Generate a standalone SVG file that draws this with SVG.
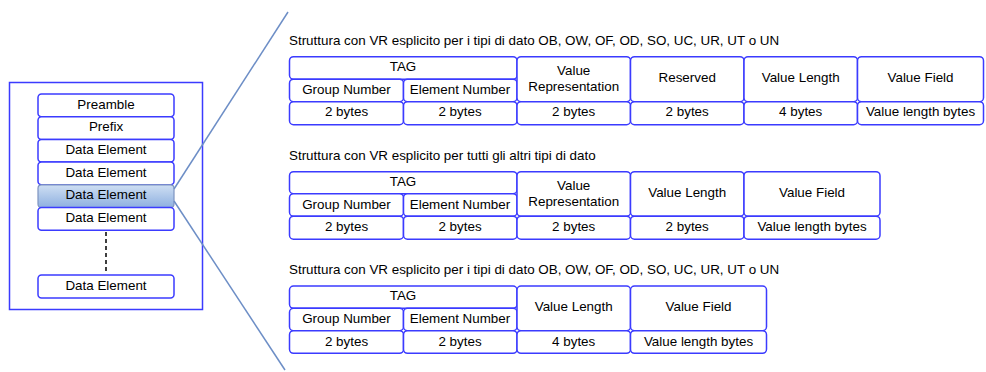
<svg xmlns="http://www.w3.org/2000/svg" width="986" height="372" viewBox="0 0 986 372">
<defs>
<linearGradient id="hl" x1="0" y1="0" x2="0" y2="1">
<stop offset="0" stop-color="#cfdff3"/>
<stop offset="1" stop-color="#8eb0e0"/>
</linearGradient>
<style>
text{font-family:"Liberation Sans",Arial,sans-serif;font-size:13.4px;fill:#000;text-anchor:middle}
.title{text-anchor:start}
.c{fill:#fff;stroke:#3b3bff;stroke-width:1.5}
.hl{fill:url(#hl);stroke:#7d93c0;stroke-width:1.2}
.outer{fill:#fff;stroke:#3b3bff;stroke-width:1.5}
.ln{stroke:#6d8ec6;stroke-width:1.5;fill:none}
.dash{stroke:#000;stroke-width:1.5;stroke-dasharray:4,3;fill:none}
</style>
</defs>
<rect width="986" height="372" fill="#fff"/>

<g id="file">
<rect class="outer" x="9.5" y="82.5" width="193" height="227"/>
</g>
<g id="preamble"><rect class="c" x="38" y="94" width="136" height="22.7" rx="3.5"/><text x="106" y="108.5">Preamble</text></g>
<g id="prefix"><rect class="c" x="38" y="116.7" width="136" height="22.7" rx="3.5"/><text x="106" y="131.2">Prefix</text></g>
<g id="de1"><rect class="c" x="38" y="139.4" width="136" height="22.7" rx="3.5"/><text x="106" y="153.9">Data Element</text></g>
<g id="de2"><rect class="c" x="38" y="162.1" width="136" height="22.7" rx="3.5"/><text x="106" y="176.6">Data Element</text></g>
<g id="de3"><rect class="hl" x="38" y="184.8" width="136" height="22.7" rx="3.5"/><text x="106" y="199.3">Data Element</text></g>
<g id="de4"><rect class="c" x="38" y="207.5" width="136" height="22.7" rx="3.5"/><text x="106" y="222">Data Element</text></g>
<g id="de5"><rect class="c" x="38" y="275" width="136" height="23" rx="3.5"/><text x="106" y="289.5">Data Element</text></g>

<g id="connectors">
<line class="ln" x1="174" y1="189" x2="288" y2="12"/>
<line class="ln" x1="174" y1="201" x2="285" y2="370"/>
<line class="dash" x1="106" y1="232" x2="106" y2="274"/>
</g>

<g id="table1">
<text class="title" x="289" y="44.5">Struttura con VR esplicito per i tipi di dato OB, OW, OF, OD, SO, UC, UR, UT o UN</text>
<rect class="c" x="289.5" y="56.7" width="227.5" height="22.5" rx="4"/><text x="403" y="71">TAG</text>
<rect class="c" x="289.5" y="79.2" width="114" height="22.5" rx="4"/><text x="346.5" y="94">Group Number</text>
<rect class="c" x="403.5" y="79.2" width="113.5" height="22.5" rx="4"/><text x="460" y="94">Element Number</text>
<rect class="c" x="517" y="56.7" width="113.5" height="45" rx="4"/><text x="573.7" y="75">Value</text><text x="573.7" y="91">Representation</text>
<rect class="c" x="630.5" y="56.7" width="113.5" height="45" rx="4"/><text x="687.2" y="82">Reserved</text>
<rect class="c" x="744" y="56.7" width="113.5" height="45" rx="4"/><text x="800.7" y="82">Value Length</text>
<rect class="c" x="857.5" y="56.7" width="126" height="45" rx="4"/><text x="920.5" y="82">Value Field</text>
<rect class="c" x="289.5" y="101.7" width="114" height="23" rx="4"/><text x="346.5" y="116">2 bytes</text>
<rect class="c" x="403.5" y="101.7" width="113.5" height="23" rx="4"/><text x="460" y="116">2 bytes</text>
<rect class="c" x="517" y="101.7" width="113.5" height="23" rx="4"/><text x="573.7" y="116">2 bytes</text>
<rect class="c" x="630.5" y="101.7" width="113.5" height="23" rx="4"/><text x="687.2" y="116">2 bytes</text>
<rect class="c" x="744" y="101.7" width="113.5" height="23" rx="4"/><text x="800.7" y="116">4 bytes</text>
<rect class="c" x="857.5" y="101.7" width="126" height="23" rx="4"/><text x="920.5" y="116">Value length bytes</text>
</g>

<g id="table2">
<text class="title" x="289" y="160">Struttura con VR esplicito per tutti gli altri tipi di dato</text>
<rect class="c" x="289.5" y="171.7" width="227.5" height="22" rx="4"/><text x="403" y="185.5">TAG</text>
<rect class="c" x="289.5" y="193.7" width="114" height="22.5" rx="4"/><text x="346.5" y="208.5">Group Number</text>
<rect class="c" x="403.5" y="193.7" width="113.5" height="22.5" rx="4"/><text x="460" y="208.5">Element Number</text>
<rect class="c" x="517" y="171.7" width="113.5" height="44.5" rx="4"/><text x="573.7" y="189.5">Value</text><text x="573.7" y="205.5">Representation</text>
<rect class="c" x="630.5" y="171.7" width="113.5" height="44.5" rx="4"/><text x="687.2" y="197">Value Length</text>
<rect class="c" x="744" y="171.7" width="136" height="44.5" rx="4"/><text x="812" y="197">Value Field</text>
<rect class="c" x="289.5" y="216.2" width="114" height="23" rx="4"/><text x="346.5" y="231">2 bytes</text>
<rect class="c" x="403.5" y="216.2" width="113.5" height="23" rx="4"/><text x="460" y="231">2 bytes</text>
<rect class="c" x="517" y="216.2" width="113.5" height="23" rx="4"/><text x="573.7" y="231">2 bytes</text>
<rect class="c" x="630.5" y="216.2" width="113.5" height="23" rx="4"/><text x="687.2" y="231">2 bytes</text>
<rect class="c" x="744" y="216.2" width="136" height="23" rx="4"/><text x="812" y="231">Value length bytes</text>
</g>

<g id="table3">
<text class="title" x="289" y="274">Struttura con VR esplicito per i tipi di dato OB, OW, OF, OD, SO, UC, UR, UT o UN</text>
<rect class="c" x="289.5" y="286" width="227.5" height="22.3" rx="4"/><text x="403" y="300">TAG</text>
<rect class="c" x="289.5" y="308.3" width="114" height="22.4" rx="4"/><text x="346.5" y="323">Group Number</text>
<rect class="c" x="403.5" y="308.3" width="113.5" height="22.4" rx="4"/><text x="460" y="323">Element Number</text>
<rect class="c" x="517" y="286" width="113.5" height="44.7" rx="4"/><text x="573.7" y="311">Value Length</text>
<rect class="c" x="630.5" y="286" width="136" height="44.7" rx="4"/><text x="698.5" y="311">Value Field</text>
<rect class="c" x="289.5" y="330.7" width="114" height="22.6" rx="4"/><text x="346.5" y="345.5">2 bytes</text>
<rect class="c" x="403.5" y="330.7" width="113.5" height="22.6" rx="4"/><text x="460" y="345.5">2 bytes</text>
<rect class="c" x="517" y="330.7" width="113.5" height="22.6" rx="4"/><text x="573.7" y="345.5">4 bytes</text>
<rect class="c" x="630.5" y="330.7" width="136" height="22.6" rx="4"/><text x="698.5" y="345.5">Value length bytes</text>
</g>
</svg>
